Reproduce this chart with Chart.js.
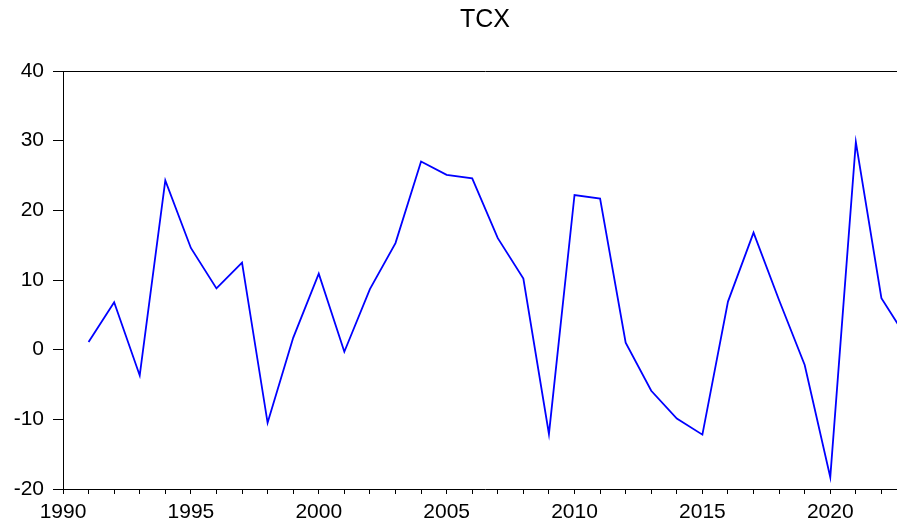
<!DOCTYPE html>
<html>
<head>
<meta charset="utf-8">
<script src="https://cdn.jsdelivr.net/npm/chart.js@4/dist/chart.umd.min.js"></script>
<style>
html,body{margin:0;padding:0;overflow:hidden;background:#fff;}
#clip{width:897px;height:524px;overflow:hidden;position:relative;}
#box{width:910px;height:524px;position:absolute;left:0;top:0;}
</style>
</head>
<body>
<div id="clip"><div id="box"><canvas id="c"></canvas></div></div>
<script>
const years = [1991,1992,1993,1994,1995,1996,1997,1998,1999,2000,2001,2002,2003,2004,2005,2006,2007,2008,2009,2010,2011,2012,2013,2014,2015,2016,2017,2018,2019,2020,2021,2022,2023];
const tcx = [1.1,6.8,-3.7,24.3,14.6,8.8,12.5,-10.5,1.7,10.9,-0.3,8.7,15.3,27.0,25.1,24.6,16.0,10.2,-12.1,22.2,21.7,1.0,-5.9,-9.9,-12.2,6.9,16.8,7.1,-2.2,-18.3,29.8,7.4,1.6];
const yTicks = [-20,-10,0,10,20,30,40];
const xLabelEvery = 5;

const frame = {
  id:'frame',
  afterDraw(chart){
    const a = chart.chartArea, ctx = chart.ctx;
    ctx.save();
    ctx.strokeStyle = '#000';
    ctx.lineWidth = 1;
    ctx.beginPath();
    ctx.moveTo(Math.round(a.left)+0.5, Math.round(a.top)+0.5);
    ctx.lineTo(Math.round(a.right)+0.5, Math.round(a.top)+0.5);
    ctx.stroke();
    ctx.restore();
  }
};

new Chart(document.getElementById('c'), {
  type:'line',
  data:{
    datasets:[{
      label:'TCX',
      data: years.map((y,i)=>({x:y,y:tcx[i]})),
      borderColor:'#0000FF',
      borderWidth:1.8,
      pointRadius:0,
      tension:0,
      fill:false
    }]
  },
  options:{
    responsive:true,
    maintainAspectRatio:false,
    animation:false,
    layout:{padding:{right:3,left:0,top:0,bottom:0}},
    plugins:{
      legend:{display:false},
      tooltip:{enabled:false},
      title:{
        display:true,
        text:'TCX',
        fullSize:false,
        color:'#000',
        font:{family:'Liberation Sans, Arial, sans-serif',size:25,weight:'normal'},
        padding:{top:5,bottom:36}
      }
    },
    scales:{
      x:{
        type:'linear',
        min:1990,
        max:2023,
        afterFit(s){ s.height = 35; s.paddingLeft = 0; s.paddingRight = 0; },
        ticks:{
          stepSize:1,
          autoSkip:false,
          maxRotation:0,
          color:'#000',
          padding:6,
          font:{family:'Liberation Sans, Arial, sans-serif',size:21},
          callback(v){ return (v % xLabelEvery === 0) ? String(v) : ''; }
        },
        grid:{display:true,drawOnChartArea:false,drawTicks:true,tickLength:5,color:'#000'},
        border:{display:true,color:'#000',width:1}
      },
      y:{
        type:'linear',
        min:yTicks[0],
        max:yTicks[yTicks.length-1],
        afterFit(s){ s.width = 63; s.paddingTop = 0; s.paddingBottom = 0; },
        afterBuildTicks(s){ s.ticks = yTicks.map(v=>({value:v})); },
        ticks:{
          color:'#000',
          padding:9,
          font:{family:'Liberation Sans, Arial, sans-serif',size:21}
        },
        grid:{display:true,drawOnChartArea:false,drawTicks:true,tickLength:10,color:'#000'},
        border:{display:true,color:'#000',width:1}
      }
    }
  },
  plugins:[frame]
});
</script>
</body>
</html>
